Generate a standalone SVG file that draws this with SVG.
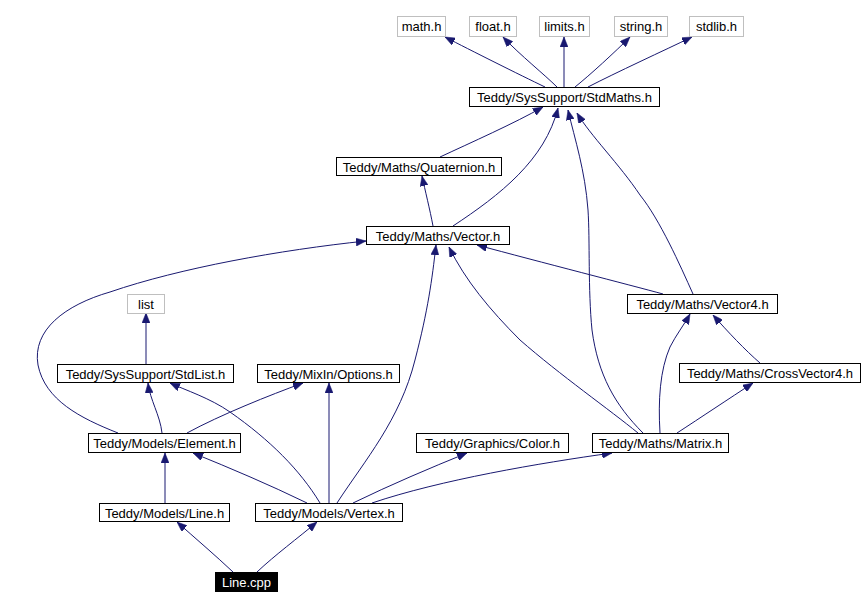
<svg xmlns="http://www.w3.org/2000/svg" width="865" height="609" viewBox="0 0 865 609">
<style>
.n rect{fill:#fff;stroke:#000;stroke-width:1}
.g rect{fill:#fff;stroke:#bfbfbf;stroke-width:1}
text{font-family:"Liberation Sans",Arial,sans-serif;font-size:13px;text-anchor:middle;fill:#000}
.r rect{fill:#000;stroke:#000}
.r text{fill:#fff}
#edges path{fill:none;stroke:#191970;stroke-width:1;marker-end:url(#a)}
</style>
<defs>
<marker id="a" viewBox="0 0 10 8" refX="10" refY="4" markerWidth="10" markerHeight="8" markerUnits="userSpaceOnUse" orient="auto">
<path d="M0,0 L10,4 L0,8 z" fill="#191970" stroke="#191970" stroke-width="0.5"/>
</marker>
</defs>
<rect width="865" height="609" fill="#fff"/>
<g id="edges">
<path d="M545,87 C520,75 470,50 445,37"/>
<path d="M557,87 C545,75 520,55 503,37"/>
<path d="M564,87 L564,37"/>
<path d="M575,87 C590,75 615,52 630,37"/>
<path d="M588,87 C615,73 665,50 692,37"/>
<path d="M440,157 C470,143 515,123 543,107"/>
<path d="M453,226 C500,195 545,160 558,108"/>
<path d="M643,433 C615,405 598,375 592,330 C588,290 590,240 588,210 C585,170 575,140 568,110"/>
<path d="M693,294 C680,265 660,220 640,195 C620,165 590,135 577,113"/>
<path d="M433,226 C430,210 425,190 422,176"/>
<path d="M663,294 C630,285 540,262 477,245"/>
<path d="M118,433 C80,418 45,400 38,365 C32,330 65,305 110,292 C180,268 280,250 366,241"/>
<path d="M146,364 L146,313"/>
<path d="M162,433 C160,415 150,400 148,383"/>
<path d="M187,433 C220,415 270,395 303,383"/>
<path d="M320,503 C300,470 270,440 230,412 C210,398 185,390 170,383"/>
<path d="M329,503 L329,383"/>
<path d="M337,503 C365,460 400,420 415,360 C428,310 432,280 436,245"/>
<path d="M638,433 C610,410 560,375 520,340 C490,310 465,280 449,247"/>
<path d="M307,503 C270,485 230,468 193,453"/>
<path d="M165,503 L165,453"/>
<path d="M353,503 C390,485 430,468 467,453"/>
<path d="M372,503 C440,480 540,463 612,453"/>
<path d="M660,433 C658,400 660,370 670,347 C676,335 684,325 690,314"/>
<path d="M760,363 C745,350 728,332 713,315"/>
<path d="M677,433 C700,418 730,398 753,383"/>
<path d="M233,572 C215,555 195,538 177,522"/>
<path d="M257,572 C275,555 298,538 317,522"/>
</g>
<g id="math" class="g"><rect x="397.5" y="16.5" width="48" height="20"/><text x="421.5" y="31">math.h</text></g>
<g id="float" class="g"><rect x="469.5" y="16.5" width="47" height="20"/><text x="493" y="31">float.h</text></g>
<g id="limits" class="g"><rect x="539.5" y="16.5" width="50" height="20"/><text x="564.5" y="31">limits.h</text></g>
<g id="string" class="g"><rect x="614.5" y="16.5" width="53" height="20"/><text x="641" y="31">string.h</text></g>
<g id="stdlib" class="g"><rect x="689.5" y="16.5" width="54" height="20"/><text x="716.5" y="31">stdlib.h</text></g>
<g id="stdmaths" class="n"><rect x="469.5" y="87.5" width="190" height="19"/><text x="564.5" y="102">Teddy/SysSupport/StdMaths.h</text></g>
<g id="quaternion" class="n"><rect x="336.5" y="157.5" width="165" height="18"/><text x="419" y="171.5">Teddy/Maths/Quaternion.h</text></g>
<g id="vector" class="n"><rect x="366.5" y="226.5" width="143" height="18"/><text x="438" y="240.5">Teddy/Maths/Vector.h</text></g>
<g id="list" class="g"><rect x="127.5" y="294.5" width="37" height="19"/><text x="146" y="309">list</text></g>
<g id="vector4" class="n"><rect x="627.5" y="294.5" width="150" height="19"/><text x="702.5" y="309">Teddy/Maths/Vector4.h</text></g>
<g id="stdlist" class="n"><rect x="57.5" y="364.5" width="176" height="18"/><text x="145.5" y="378.5">Teddy/SysSupport/StdList.h</text></g>
<g id="options" class="n"><rect x="257.5" y="364.5" width="142" height="18"/><text x="328.5" y="378.5">Teddy/MixIn/Options.h</text></g>
<g id="crossvector4" class="n"><rect x="679.5" y="363.5" width="181" height="19"/><text x="770" y="378">Teddy/Maths/CrossVector4.h</text></g>
<g id="element" class="n"><rect x="88.5" y="433.5" width="152" height="19"/><text x="164.5" y="448">Teddy/Models/Element.h</text></g>
<g id="color" class="n"><rect x="416.5" y="433.5" width="152" height="19"/><text x="492.5" y="448">Teddy/Graphics/Color.h</text></g>
<g id="matrix" class="n"><rect x="592.5" y="433.5" width="136" height="19"/><text x="660.5" y="448">Teddy/Maths/Matrix.h</text></g>
<g id="line" class="n"><rect x="99.5" y="503.5" width="130" height="18"/><text x="164.5" y="517.5">Teddy/Models/Line.h</text></g>
<g id="vertex" class="n"><rect x="255.5" y="503.5" width="147" height="18"/><text x="329" y="517.5">Teddy/Models/Vertex.h</text></g>
<g id="linecpp" class="r"><rect x="215.5" y="572.5" width="62" height="19"/><text x="246.5" y="587">Line.cpp</text></g>
</svg>
